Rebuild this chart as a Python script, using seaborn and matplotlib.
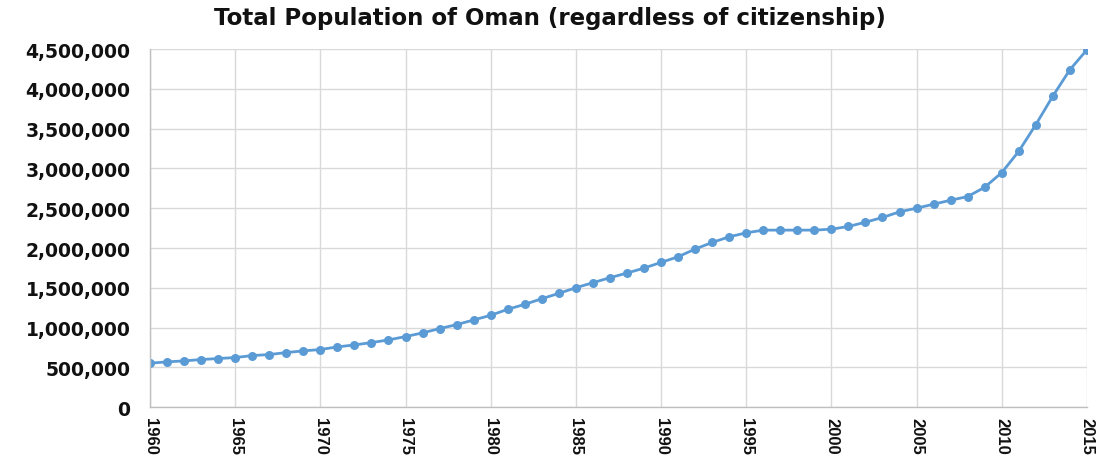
import matplotlib.pyplot as plt
import seaborn as sns
import pandas as pd
from matplotlib.ticker import FuncFormatter, MultipleLocator

# Values
years = list(range(1960, 2016))
population = [
    552000, 569000, 581000, 598000, 611000, 623000, 648000, 661000, 686000, 707000,
    724000, 757000, 782000, 811000, 845000, 887000, 933000, 987000, 1037000, 1096000,
    1154000, 1230000, 1292000, 1363000, 1430000, 1501000, 1564000, 1627000, 1685000, 1748000,
    1819000, 1890000, 1987000, 2070000, 2141000, 2191000, 2225000, 2225000, 2225000, 2225000,
    2237000, 2271000, 2325000, 2384000, 2455000, 2501000, 2551000, 2601000, 2647000, 2764000,
    2948000, 3216000, 3551000, 3910000, 4241000, 4492000,
]
TITLE = "Total Population of Oman (regardless of citizenship)"
LINE_COLOR = "#5B9BD5"

df = pd.DataFrame({"year": years, "population": population})

sns.set_theme(style="white")
plt.rcParams["font.family"] = ["DejaVu Sans"]

fig, ax = plt.subplots(figsize=(10.99, 4.56), dpi=100)
fig.subplots_adjust(left=0.1365, right=0.989, top=0.890, bottom=0.105)

sns.lineplot(
    data=df,
    x="year",
    y="population",
    ax=ax,
    color=LINE_COLOR,
    linewidth=2,
    marker="o",
    markersize=6.5,
    markeredgewidth=0,
)

ax.set_xlim(1960, 2015)
ax.set_ylim(0, 4500000)
ax.xaxis.set_major_locator(MultipleLocator(5))
ax.yaxis.set_major_locator(MultipleLocator(500000))
ax.yaxis.set_major_formatter(FuncFormatter(lambda v, _: f"{int(v):,}"))

ax.grid(True, color="#D9D9D9", linewidth=1)
ax.set_axisbelow(True)
for side in ["top", "right"]:
    ax.spines[side].set_visible(False)
for side in ["left", "bottom"]:
    ax.spines[side].set_color("#BFBFBF")
    ax.spines[side].set_linewidth(1)

ax.tick_params(axis="y", length=0, pad=14)
ax.tick_params(axis="x", length=0, pad=7)
for lbl in ax.get_yticklabels():
    lbl.set_fontsize(13.5)
    lbl.set_fontweight("bold")
    lbl.set_color("#111111")
for lbl in ax.get_xticklabels():
    lbl.set_rotation(270)
    lbl.set_fontsize(12)
    lbl.set_fontweight("bold")
    lbl.set_family("Liberation Sans")
    lbl.set_color("#111111")

ax.set_xlabel("")
ax.set_ylabel("")
fig.suptitle(TITLE, x=0.5, y=0.96, va="center", fontsize=16.5,
             fontweight="bold", color="#111111")

fig.savefig("out.png", dpi=100)
